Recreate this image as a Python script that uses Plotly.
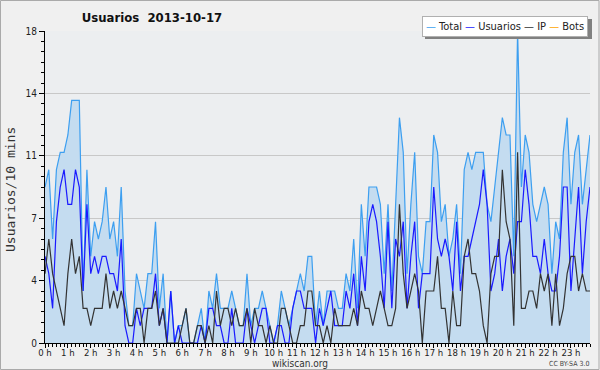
import plotly.graph_objects as go

# 10-minute slots for 2013-10-17 (144 slots)
total = [9, 10, 6, 10, 11, 11, 12, 14, 14, 14, 3, 10, 5, 7, 6, 7, 9, 6, 7, 5, 9, 3, 1, 1,
         4, 3, 2, 4, 4, 7, 2, 4, 0, 3, 0, 1, 1, 2, 0, 0, 1, 2, 0, 3, 2, 4, 2, 2,
         2, 3, 2, 1, 1, 4, 1, 2, 2, 3, 2, 1, 0, 1, 3, 2, 1, 2, 3, 4, 3, 5, 5, 1,
         3, 1, 3, 3, 3, 2, 2, 4, 3, 6, 2, 8, 5, 9, 9, 9, 8, 4, 8, 3, 8, 13, 11, 4,
         8, 11, 5, 4, 7, 7, 12, 11, 7, 8, 5, 6, 8, 4, 10, 11, 10, 11, 11, 11, 8, 7, 9, 11,
         13, 12, 12, 5, 18, 9, 12, 11, 8, 7, 8, 9, 8, 4, 7, 6, 11, 13, 8, 11, 12, 8, 10, 12]
usuarios = [5, 4, 2, 7, 9, 10, 8, 8, 10, 9, 3, 8, 4, 5, 4, 5, 5, 4, 4, 3, 6, 1, 0, 0,
            2, 1, 2, 2, 2, 4, 1, 2, 0, 3, 0, 1, 0, 0, 0, 0, 0, 1, 0, 2, 2, 1, 1, 0,
            0, 2, 0, 0, 0, 2, 1, 0, 1, 2, 2, 0, 0, 1, 1, 0, 0, 2, 3, 3, 2, 2, 2, 0,
            2, 1, 2, 3, 1, 1, 1, 3, 2, 4, 1, 5, 3, 7, 8, 7, 5, 2, 7, 2, 6, 5, 7, 2,
            5, 7, 2, 4, 4, 4, 9, 6, 5, 6, 5, 3, 7, 3, 5, 5, 6, 7, 8, 10, 8, 3, 4, 6,
            3, 5, 6, 4, 7, 7, 10, 8, 5, 5, 4, 6, 4, 3, 3, 5, 9, 9, 3, 6, 9, 4, 7, 9]
ip = [4, 6, 4, 3, 2, 1, 4, 6, 4, 5, 2, 2, 1, 2, 2, 2, 4, 2, 3, 2, 3, 2, 1, 1,
      2, 2, 0, 2, 2, 3, 1, 2, 0, 0, 0, 0, 1, 2, 0, 0, 1, 1, 0, 1, 0, 3, 1, 2,
      2, 1, 2, 1, 1, 2, 0, 2, 1, 1, 0, 1, 0, 0, 2, 2, 1, 0, 0, 1, 1, 3, 3, 1,
      1, 0, 1, 0, 2, 1, 1, 1, 1, 2, 1, 3, 2, 2, 1, 2, 3, 2, 1, 1, 2, 8, 4, 2,
      3, 4, 3, 0, 3, 3, 3, 5, 2, 2, 0, 3, 1, 1, 5, 6, 4, 4, 3, 1, 0, 4, 5, 5,
      10, 7, 6, 1, 11, 2, 2, 3, 3, 2, 4, 3, 4, 1, 4, 1, 2, 4, 5, 5, 3, 4, 3, 3]
bots = [0] * 144

slots = list(range(144))
hour_ticks = list(range(0, 144, 6))
hour_labels = [f"{h} h" for h in range(24)]
y_ticks = [0, 3.6, 7.2, 10.8, 14.4, 18]
y_labels = ["0", "4", "7", "11", "14", "18"]

C_TOTAL = "#3d9ff0"
C_FILL = "#c4dcf0"
C_USR = "#1a1aff"
C_IP = "#333333"
C_BOTS = "#ffa500"
FONT = "DejaVu Sans Condensed, DejaVu Sans, sans-serif"

fig = go.Figure()
fig.add_trace(go.Scatter(x=slots, y=bots, mode="lines", line=dict(color=C_BOTS, width=1),
                         name="Bots", showlegend=False, hoverinfo="skip"))
fig.add_trace(go.Scatter(x=slots, y=total, mode="lines", line=dict(color=C_TOTAL, width=1.2),
                         fill="tozeroy", fillcolor=C_FILL, name="Total", showlegend=False))
fig.add_trace(go.Scatter(x=slots, y=usuarios, mode="lines", line=dict(color=C_USR, width=1.2),
                         name="Usuarios", showlegend=False))
fig.add_trace(go.Scatter(x=slots, y=ip, mode="lines", line=dict(color=C_IP, width=1.2),
                         name="IP", showlegend=False))

L, R, T, B = 45, 10, 31, 27
W, H = 600, 370
pw, ph = W - L - R, H - T - B

fig.update_layout(
    width=W, height=H,
    margin=dict(l=L, r=R, t=T, b=B, autoexpand=False),
    paper_bgcolor="#f0f0f0",
    plot_bgcolor="#eceef0",
    font=dict(family=FONT, size=10, color="#222"),
    title=dict(text="<b>Usuarios\u00a0 2013-10-17</b>", x=152 / W, xanchor="center",
               y=1 - 17 / H, yanchor="middle", font=dict(size=13, color="#111", family=FONT)),
    xaxis=dict(range=[0, 143], tickmode="array", tickvals=hour_ticks, ticktext=hour_labels,
               ticks="outside", ticklen=4, tickcolor="black", showline=True, linecolor="black",
               linewidth=1, showgrid=False, zeroline=False, tickfont=dict(size=9.5), automargin=False,
               ticklabelstandoff=-3,
               minor=dict(dtick=1, tick0=0, ticks="outside", ticklen=3, tickcolor="black", showgrid=False)),
    yaxis=dict(range=[0, 18], tickmode="array", tickvals=y_ticks, ticktext=y_labels,
               ticks="outside", ticklen=5, tickcolor="black", showline=True, linecolor="black",
               linewidth=1, showgrid=True, gridcolor="#c8c8c8", gridwidth=1, zeroline=False,
               tickfont=dict(size=10), automargin=False,
               minor=dict(dtick=0.6, tick0=0, ticks="outside", ticklen=3, tickcolor="black", showgrid=False)),
)

# y-axis title
fig.add_annotation(text="Usuarios/10 mins", xref="paper", yref="paper", x=(10 - L) / pw, y=(H - B - 190) / ph,
                   xanchor="center", yanchor="middle", textangle=-90, showarrow=False, borderpad=0,
                   font=dict(family="DejaVu Sans Mono", size=13, color="#333"))

# outer border
fig.add_shape(type="rect", xref="paper", yref="paper",
              x0=-L / pw + 0.5 / pw, x1=1 + (R - 1) / pw, y0=-B / ph + 0.5 / ph, y1=1 + (T - 0.5) / ph,
              line=dict(color="#aaaaaa", width=1), fillcolor="rgba(0,0,0,0)", layer="above")

# legend box shadow + legend text
lx0, lx1, ly0, ly1 = 422, 589, 16, 36
fig.add_shape(type="rect", xref="paper", yref="paper",
              x0=(lx0 + 3 - L) / pw, x1=(lx1 + 3 - L) / pw,
              y0=(H - B - (ly1 + 3)) / ph, y1=(H - B - (ly0 + 3)) / ph,
              line=dict(width=0), fillcolor="#808080", layer="above")
legend_txt = (f'<span style="color:{C_TOTAL}">—</span> Total '
              f'<span style="color:{C_USR}">—</span> Usuarios '
              f'<span style="color:{C_IP}">—</span> IP '
              f'<span style="color:{C_BOTS}">—</span> Bots')
fig.add_annotation(text=legend_txt, xref="paper", yref="paper",
                   x=(lx0 - L) / pw, xanchor="left", y=(H - B - (ly0 + ly1) / 2) / ph, yanchor="middle",
                   showarrow=False, bgcolor="white", bordercolor="#b0b0b0", borderwidth=1, borderpad=3,
                   font=dict(size=11, color="#222", family=FONT))

fig.add_annotation(text="wikiscan.org", xref="paper", yref="paper", x=(300 - L) / pw, y=-(363 - (H - B)) / ph,
                   xanchor="center", yanchor="middle", showarrow=False, borderpad=0,
                   font=dict(size=10, color="#333"))
fig.add_annotation(text="CC BY-SA 3.0", xref="paper", yref="paper", x=(590 - L) / pw, y=-(364 - (H - B)) / ph,
                   xanchor="right", yanchor="middle", showarrow=False, borderpad=0,
                   font=dict(size=7, color="#444"))

fig.write_html("out.html", config={"displayModeBar": False},
               post_script="document.body.style.margin='0';document.body.style.padding='0';")
